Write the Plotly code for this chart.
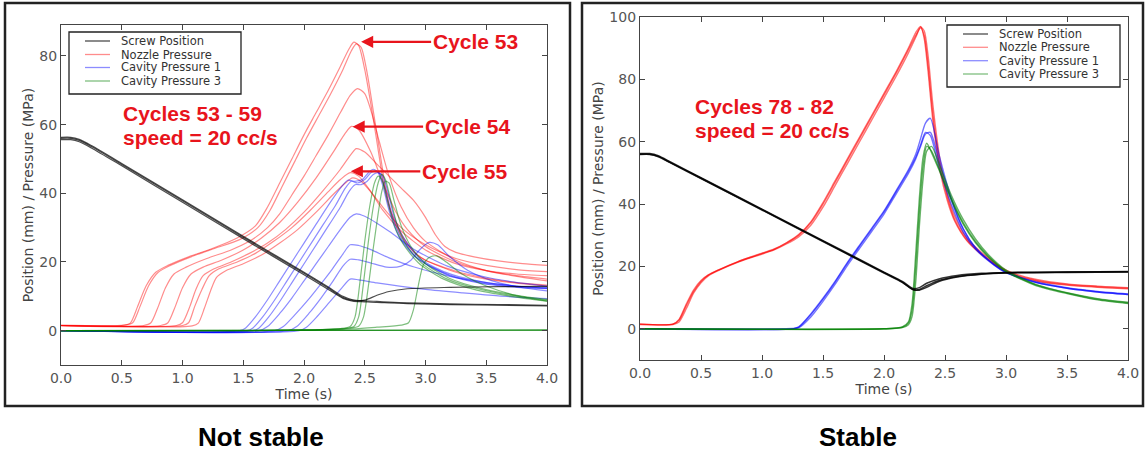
import plotly.graph_objects as go

W, H = 1146, 452

# ------------------------------------------------------------------
# LEFT PANEL  -  "Not stable", cycles 53-59
# ------------------------------------------------------------------
left_screw_t = [0, 0.08, 0.15, 0.25, 0.5, 1.0, 1.5, 2.0, 2.2, 2.32, 2.4, 2.5, 2.6, 2.7, 2.85, 3.2, 3.6, 4.0]
left_screw_v = [
    [55.6, 55.6, 55.0, 53.2, 48.0, 37.4, 26.8, 16.3, 12.0, 9.4, 8.6, 8.4, 8.2, 8.1, 7.9, 7.6, 7.4, 7.2],
    [56.3, 56.3, 55.7, 53.9, 48.7, 38.1, 27.5, 17.0, 12.7, 10.0, 9.0, 8.7, 8.5, 8.3, 8.1, 7.8, 7.6, 7.4],
    [56.0, 56.0, 55.4, 53.6, 48.4, 37.8, 27.2, 16.7, 12.4, 9.7, 8.8, 8.9, 10.3, 11.4, 12.2, 12.6, 12.8, 12.9],
]

left_nozzle_t = [
    [0, 0.5, 0.57, 0.63, 0.7, 0.78, 0.88, 1.05, 1.25, 1.45, 1.6, 1.7, 1.8, 1.9, 2.0, 2.1, 2.2, 2.3, 2.37, 2.41, 2.45, 2.5, 2.55, 2.6, 2.65, 2.7, 2.8, 2.9, 3.0, 3.25, 3.5, 3.75, 4.0],
    [0, 0.52, 0.59, 0.65, 0.72, 0.8, 0.9, 1.07, 1.27, 1.47, 1.62, 1.72, 1.82, 1.92, 2.02, 2.12, 2.22, 2.32, 2.39, 2.43, 2.47, 2.52, 2.57, 2.62, 2.67, 2.72, 2.82, 2.92, 3.0, 3.25, 3.5, 3.75, 4.0],
    [0, 0.68, 0.74, 0.8, 0.86, 0.93, 1.03, 1.2, 1.4, 1.55, 1.7, 1.8, 1.9, 2.0, 2.1, 2.2, 2.3, 2.38, 2.44, 2.5, 2.56, 2.62, 2.7, 2.8, 2.9, 3.0, 3.25, 3.5, 3.75, 4.0],
    [0, 0.82, 0.88, 0.94, 1.0, 1.07, 1.17, 1.32, 1.5, 1.65, 1.8, 1.95, 2.1, 2.25, 2.34, 2.39, 2.45, 2.55, 2.65, 2.75, 2.85, 3.0, 3.25, 3.5, 3.75, 4.0],
    [0, 0.95, 1.0, 1.06, 1.11, 1.17, 1.26, 1.4, 1.55, 1.7, 1.85, 2.0, 2.15, 2.3, 2.39, 2.43, 2.5, 2.6, 2.7, 2.8, 2.9, 3.0, 3.08, 3.16, 3.25, 3.4, 3.6, 3.8, 4.0],
    [0, 1.0, 1.05, 1.1, 1.16, 1.22, 1.3, 1.45, 1.6, 1.75, 1.9, 2.05, 2.2, 2.3, 2.38, 2.45, 2.55, 2.65, 2.8, 3.0, 3.25, 3.5, 3.75, 4.0],
    [0, 1.08, 1.13, 1.18, 1.23, 1.28, 1.36, 1.5, 1.65, 1.8, 1.95, 2.1, 2.25, 2.34, 2.4, 2.47, 2.57, 2.67, 2.8, 3.0, 3.25, 3.5, 3.75, 4.0],
]
left_nozzle_v = [
    [1.5, 1.5, 2.2, 7, 13, 17, 19, 21.5, 24, 27, 30.5, 36, 43, 50, 57, 63.5, 70, 77, 82, 84, 83, 76, 66, 55, 44, 36, 27.5, 23, 20.5, 17, 15, 13.8, 13],
    [1.6, 1.6, 2.3, 7, 13, 17, 19, 21.5, 24, 26.5, 30, 35, 42, 49, 56, 62.5, 69, 76, 81.5, 83.5, 82.5, 75, 64, 53, 42, 34.5, 27, 22.5, 20.5, 17.3, 15.3, 14, 13.3],
    [1.5, 1.5, 2.3, 7, 12.5, 16.5, 18.5, 21, 23.5, 26, 30, 34, 39.5, 45, 51, 57, 63.5, 68.5, 70.5, 69, 63, 55, 45, 36, 30, 26, 20.5, 17.5, 15.8, 14.5],
    [1.5, 1.5, 2.3, 7, 12.5, 16.5, 18.5, 20.5, 23.5, 27, 31.5, 37.5, 44.5, 52.5, 57.5, 59.5, 58.5, 52, 43, 35, 29.5, 24.5, 20, 17.5, 16, 15],
    [1.5, 1.5, 2.3, 7, 12, 16, 18, 20, 22.5, 25.5, 29.5, 34.5, 40.5, 47, 51.5, 53, 52, 48.5, 45, 41.5, 38, 33, 28, 24.5, 22.8, 21.5, 20.3, 19.5, 19],
    [1.5, 1.5, 2.3, 7, 12, 16, 18, 20, 22.5, 26, 30, 35, 40.5, 44, 46, 45, 40.5, 35, 29, 23.5, 19.5, 17.5, 16.5, 16],
    [1.4, 1.4, 2.2, 6.5, 11.5, 15.5, 17.5, 19.5, 22, 25.5, 29.5, 34.5, 40, 43, 44.5, 43.5, 39.5, 35, 30, 25, 21, 19, 17.8, 17.2],
]

left_cav1_t = [
    [0, 1.47, 1.52, 1.6, 1.7, 1.8, 1.9, 2.0, 2.1, 2.2, 2.3, 2.36, 2.42, 2.48, 2.53, 2.57, 2.61, 2.65, 2.7, 2.78, 2.9, 3.05, 3.2, 3.45, 3.75, 4.0],
    [0, 1.53, 1.58, 1.66, 1.76, 1.86, 1.96, 2.06, 2.16, 2.26, 2.34, 2.39, 2.44, 2.5, 2.55, 2.59, 2.63, 2.67, 2.72, 2.8, 2.92, 3.05, 3.2, 3.45, 3.75, 4.0],
    [0, 1.58, 1.63, 1.71, 1.81, 1.91, 2.01, 2.11, 2.21, 2.3, 2.37, 2.42, 2.47, 2.52, 2.57, 2.61, 2.65, 2.69, 2.74, 2.82, 2.94, 3.07, 3.22, 3.47, 3.75, 4.0],
    [0, 1.63, 1.7, 1.8, 1.9, 2.0, 2.1, 2.2, 2.3, 2.38, 2.43, 2.5, 2.6, 2.71, 2.9, 3.18, 3.45, 3.7, 4.0],
    [0, 1.76, 1.83, 1.93, 2.03, 2.13, 2.23, 2.32, 2.38, 2.45, 2.55, 2.7, 2.9, 3.2, 3.5, 3.75, 4.0],
    [0, 1.87, 1.94, 2.04, 2.14, 2.24, 2.32, 2.38, 2.45, 2.55, 2.68, 2.8, 2.88, 2.95, 3.03, 3.1, 3.2, 3.35, 3.55, 3.8, 4.0],
    [0, 1.96, 2.02, 2.11, 2.21, 2.31, 2.38, 2.45, 2.6, 2.8, 3.0, 3.3, 3.6, 4.0],
]
left_cav1_v = [
    [0, 0, 0.8, 4, 9, 14.5, 20, 25.5, 31, 36.5, 41.5, 43.8, 43.5, 44, 46, 47, 46, 42, 35, 27.5, 22, 18.5, 16, 13.8, 12.6, 12.2],
    [0, 0, 0.8, 4, 9, 14.5, 20, 25.5, 31, 36.5, 41.5, 43.5, 43, 44, 46, 46.5, 45.5, 41, 34, 27, 21.5, 18.5, 16.2, 14, 12.8, 12.4],
    [0, 0, 0.8, 4, 9, 14.5, 20, 25.5, 31, 36, 40.5, 42.5, 42.5, 43.5, 45.5, 46, 45, 40.5, 33.5, 27, 21.5, 18.5, 16.3, 14.2, 13, 12.6],
    [0, 0, 1.2, 5, 9.5, 14.5, 19.5, 24.5, 29.5, 33, 34, 33.3, 31.3, 28.7, 23.8, 18.8, 16, 14.3, 13],
    [0, 0, 1.2, 4.8, 8.8, 13.2, 17.8, 22.3, 25, 24.8, 23.6, 21.2, 18.6, 15.8, 14, 13, 12.3],
    [0, 0, 1.2, 5, 9.5, 14.5, 18.8, 20.8, 20.6, 19.7, 18.5, 18.8, 20.5, 23.5, 25.7, 25, 21.5, 17.5, 14.5, 12.5, 11.6],
    [0, 0, 1.0, 4.2, 8.3, 12.4, 15, 14.8, 13.9, 12.9, 12, 11, 10.1, 9.3],
]

left_cav3_t = [
    [0, 1.5, 2.0, 2.3, 2.38, 2.42, 2.46, 2.5, 2.54, 2.58, 2.61, 2.64, 2.68, 2.74, 2.82, 2.95, 3.15, 3.4, 3.7, 4.0],
    [0, 1.5, 2.0, 2.33, 2.41, 2.45, 2.49, 2.53, 2.57, 2.61, 2.64, 2.67, 2.71, 2.77, 2.85, 2.98, 3.18, 3.43, 3.72, 4.0],
    [0, 1.5, 2.0, 2.37, 2.45, 2.49, 2.53, 2.57, 2.61, 2.64, 2.67, 2.7, 2.74, 2.8, 2.88, 3.0, 3.2, 3.45, 3.75, 4.0],
    [0, 2.0, 2.4, 2.6, 2.8, 2.86, 2.9, 2.94, 2.98, 3.03, 3.09, 3.17, 3.3, 3.5, 3.75, 4.0],
    [0, 2.0, 4.0],
    [0, 2.0, 4.0],
    [0, 2.0, 4.0],
]
left_cav3_v = [
    [0, 0, 0.2, 0.6, 1.2, 4, 14, 26, 36, 43, 45, 44, 39, 31, 25, 19.5, 15, 12, 10, 8.6],
    [0, 0, 0.2, 0.6, 1.2, 4, 14, 26, 36, 43, 45.5, 44, 38.5, 30.5, 24.5, 19.3, 15, 12.2, 10.2, 8.9],
    [0, 0, 0.2, 0.7, 1.3, 4, 13, 24, 34, 40.5, 43.5, 43, 38, 30.5, 24.5, 19.5, 15.2, 12.4, 10.3, 9.1],
    [0, 0.1, 0.5, 1.0, 1.6, 2.3, 6, 13, 19, 21.3, 21.8, 20, 16.5, 13, 10.2, 8.6],
    [0, 0.1, 0.2],
    [0, 0.05, 0.1],
    [0, 0.1, 0.15],
]

# ------------------------------------------------------------------
# RIGHT PANEL  -  "Stable", cycles 78-82
# ------------------------------------------------------------------
right_screw_t = [0, 0.08, 0.15, 0.25, 0.5, 1.0, 1.5, 2.0, 2.15, 2.24, 2.29, 2.35, 2.45, 2.6, 2.8, 3.0, 3.5, 4.0]
right_screw_v = [
    [56.0, 56.0, 55.3, 53.3, 48.3, 38.2, 28.1, 18.0, 15.0, 12.6, 12.6, 13.8, 15.5, 16.8, 17.6, 18.0, 18.2, 18.3],
    [56.2, 56.2, 55.5, 53.5, 48.5, 38.4, 28.3, 18.2, 15.2, 12.9, 13.2, 14.6, 16.0, 17.1, 17.8, 18.1, 18.2, 18.4],
    [55.9, 55.9, 55.2, 53.2, 48.2, 38.1, 28.0, 17.9, 14.9, 12.5, 12.4, 13.3, 15.2, 16.6, 17.5, 17.9, 18.1, 18.2],
]

right_nozzle_t = [0, 0.27, 0.32, 0.38, 0.44, 0.5, 0.56, 0.65, 0.8, 0.95, 1.1, 1.2, 1.3, 1.4, 1.5, 1.6, 1.7, 1.8, 1.9, 2.0, 2.1, 2.2, 2.26, 2.3, 2.33, 2.36, 2.4, 2.46, 2.52, 2.58, 2.68, 2.8, 3.0, 3.25, 3.5, 3.75, 4.0]
right_nozzle_v = [
    [1.5, 1.5, 3, 8, 12.5, 15.5, 17.3, 19, 21.5, 23.5, 25.5, 27.5, 30, 34, 40, 47, 54, 61, 68, 75, 82, 89.5, 94, 96.5, 94, 85, 69, 52, 42, 35, 28.5, 24, 18.5, 15.5, 14.2, 13.5, 13],
    [1.4, 1.4, 2.2, 6.5, 11.5, 14.8, 17, 18.8, 21.3, 23.3, 25.3, 27.2, 29.5, 33.2, 39, 46, 53, 60, 67, 74, 81, 88.5, 93.5, 96.8, 95.5, 88, 72, 54, 43, 36, 29, 24.5, 18.8, 15.8, 14.4, 13.7, 13.2],
    [1.5, 1.5, 2.8, 7.5, 12, 15.2, 17.2, 19, 21.5, 23.6, 25.6, 27.6, 30.2, 34.3, 40.5, 47.5, 54.5, 61.5, 68.5, 75.5, 82.5, 90, 95, 97, 93, 83, 67, 50.5, 41, 34.5, 28.2, 23.8, 18.3, 15.3, 14, 13.3, 12.8],
]

right_cav1_t = [0, 1.25, 1.3, 1.4, 1.5, 1.6, 1.7, 1.8, 1.9, 2.0, 2.1, 2.2, 2.26, 2.3, 2.34, 2.38, 2.45, 2.55, 2.65, 2.75, 2.9, 3.0, 3.25, 3.5, 3.75, 4.0]
right_cav1_v = [
    [0, 0, 0.5, 4.5, 9.5, 15, 21, 26.5, 32, 37.5, 44, 50.5, 55, 59, 63, 62, 52, 40, 31, 25.5, 20.5, 18, 14.8, 13, 11.8, 11],
    [0, 0.1, 0.3, 3.8, 8.8, 14.3, 20.3, 25.8, 31.3, 36.8, 43.3, 49.8, 54.5, 58.5, 62.5, 63, 54, 41.5, 32, 26, 20.8, 18.2, 15, 13.2, 12, 11.2],
    [0, 0, 0.6, 4.8, 9.8, 15.3, 21.3, 26.8, 32.3, 37.8, 44.3, 51, 56, 61, 66, 67.5, 56, 42, 32, 26, 20.6, 18.1, 14.8, 13, 11.8, 11],
]

right_cav3_t = [0, 2.0, 2.15, 2.2, 2.23, 2.26, 2.29, 2.32, 2.35, 2.39, 2.45, 2.55, 2.65, 2.75, 2.85, 3.0, 3.25, 3.5, 3.75, 4.0]
right_cav3_v = [
    [0, 0, 0.5, 1.8, 6, 20, 38, 52, 58.5, 57, 51.5, 42, 34, 28, 23.5, 18.5, 14, 11.5, 9.5, 8.3],
    [0, 0, 0.4, 1.3, 4, 15, 33, 48, 57, 58.5, 53, 43, 35, 28.8, 24, 18.8, 14.2, 11.6, 9.7, 8.5],
    [0, 0, 0.6, 2.2, 8, 24, 42, 55, 59.5, 56.5, 51, 41.5, 33.5, 27.6, 23.2, 18.3, 13.8, 11.3, 9.3, 8.1],
]

# axis ticks / labels
x_ticks = [0.0, 0.5, 1.0, 1.5, 2.0, 2.5, 3.0, 3.5, 4.0]
left_y_ticks = [0, 20, 40, 60, 80]
right_y_ticks = [0, 20, 40, 60, 80, 100]
legend_labels = ["Screw Position", "Nozzle Pressure", "Cavity Pressure 1", "Cavity Pressure 3"]

# ------------------------------------------------------------------
COL_L = {
    "screw": "rgba(0,0,0,0.7)",
    "nozzle": "rgba(255,0,0,0.45)",
    "cav1": "rgba(0,0,255,0.45)",
    "cav3": "rgba(0,128,0,0.5)",
}
COL_R = {
    "screw": "rgba(0,0,0,0.8)",
    "nozzle": "rgba(255,0,0,0.55)",
    "cav1": "rgba(0,0,255,0.55)",
    "cav3": "rgba(0,128,0,0.6)",
}
LEG_COL = [COL_L["screw"], COL_L["nozzle"], COL_L["cav1"], COL_L["cav3"]]
RED = "#e8141c"

fig = go.Figure()


def add_curves(ts, vs, color, xa, ya, width):
    for i, v in enumerate(vs):
        t = ts[i] if isinstance(ts[0], list) else ts
        fig.add_trace(go.Scatter(
            x=t, y=v, mode="lines", xaxis=xa, yaxis=ya, showlegend=False,
            hoverinfo="skip",
            line=dict(color=color, width=width, shape="spline", smoothing=0.7)))


add_curves(left_nozzle_t, left_nozzle_v, COL_L["nozzle"], "x", "y", 1.2)
add_curves(left_cav1_t, left_cav1_v, COL_L["cav1"], "x", "y", 1.2)
add_curves(left_cav3_t, left_cav3_v, COL_L["cav3"], "x", "y", 1.2)
add_curves(left_screw_t, left_screw_v, COL_L["screw"], "x", "y", 1.2)

add_curves(right_nozzle_t, right_nozzle_v, COL_R["nozzle"], "x2", "y2", 1.4)
add_curves(right_cav1_t, right_cav1_v, COL_R["cav1"], "x2", "y2", 1.4)
add_curves(right_cav3_t, right_cav3_v, COL_R["cav3"], "x2", "y2", 1.4)
add_curves(right_screw_t, right_screw_v, COL_R["screw"], "x2", "y2", 1.5)


def px(x):
    return x / W


def py(y):
    return 1 - y / H


AX_COL = "#444"
TICK_FONT = dict(family="DejaVu Sans", size=14, color="#555")
TITLE_FONT = dict(family="DejaVu Sans", size=14, color="#444")
common_x = dict(range=[0, 4], tickvals=x_ticks, ticktext=[f"{v:.1f}" for v in x_ticks],
                ticks="inside", ticklen=5, tickcolor=AX_COL, showline=True, linecolor=AX_COL,
                linewidth=1.3, mirror="ticks", showgrid=False, zeroline=False, automargin=False,
                tickfont=TICK_FONT, title=dict(text="Time (s)", font=TITLE_FONT, standoff=2))
common_y = dict(ticks="inside", ticklen=5, tickcolor=AX_COL, showline=True, linecolor=AX_COL,
                linewidth=1.3, mirror="ticks", showgrid=False, zeroline=False, automargin=False,
                tickfont=TICK_FONT,
                title=dict(text="Position (mm) / Pressure (MPa)", font=TITLE_FONT, standoff=2))

fig.update_layout(
    width=W, height=H, margin=dict(l=0, r=0, t=0, b=0, pad=0, autoexpand=False),
    paper_bgcolor="white", plot_bgcolor="white", showlegend=False,
    xaxis=dict(domain=[px(61), px(547)], anchor="y", **common_x),
    yaxis=dict(domain=[py(365), py(25)], anchor="x", range=[-10, 89], tickvals=left_y_ticks, **common_y),
    xaxis2=dict(domain=[px(640), px(1128)], anchor="y2", **common_x),
    yaxis2=dict(domain=[py(360), py(17)], anchor="x2", range=[-10, 100], tickvals=right_y_ticks, **common_y),
)

shapes = []
annos = []
# panel frames
for x0, x1 in [(5, 570), (582, 1143)]:
    shapes.append(dict(type="rect", xref="paper", yref="paper", x0=px(x0), x1=px(x1),
                       y0=py(406), y1=py(3), line=dict(color="#222", width=2.5)))

# legends (drawn as boxes with sample lines)
for (bx0, by0, bx1, by1, lx0, lx1, tx, rows) in [
    (69, 32, 241, 94, 85, 110, 119, [41, 54.5, 67.5, 81]),
    (947, 25, 1120, 87, 963, 988, 997, [34, 47.3, 60.7, 74]),
]:
    shapes.append(dict(type="rect", xref="paper", yref="paper", x0=px(bx0), x1=px(bx1),
                       y0=py(by1), y1=py(by0), line=dict(color="#222", width=1.3),
                       fillcolor="white", layer="above"))
    for lab, col, ry in zip(legend_labels, LEG_COL, rows):
        shapes.append(dict(type="line", xref="paper", yref="paper", x0=px(lx0), x1=px(lx1),
                           y0=py(ry), y1=py(ry), line=dict(color=col, width=1.3), layer="above"))
        annos.append(dict(xref="paper", yref="paper", x=px(tx), y=py(ry), text=lab,
                          showarrow=False, xanchor="left", yanchor="middle",
                          font=dict(family="DejaVu Sans", size=11.5, color="#333")))

RF = dict(family="Liberation Sans, Arial", size=21, color=RED, weight="bold")
# red labels
for txt, x, y in [("Cycles 53 - 59", 121, 113), ("speed = 20 cc/s", 121, 137),
                  ("Cycles 78 - 82", 693, 107), ("speed = 20 cc/s", 693, 131)]:
    annos.append(dict(xref="paper", yref="paper", x=px(x), y=py(y), text=txt, showarrow=False,
                      xanchor="left", yanchor="middle", font=RF))

# cycle arrows (head in data coordinates)
for txt, hx, hy, off in [("Cycle 53", 2.47, 84.1, 114), ("Cycle 54", 2.40, 59.4, 115),
                         ("Cycle 55", 2.385, 46.4, 114)]:
    annos.append(dict(xref="x", yref="y", x=hx, y=hy, text=txt, showarrow=True,
                      ax=off, ay=0, arrowhead=2, arrowsize=1.1, arrowwidth=2.2,
                      arrowcolor=RED, standoff=0, font=RF))

# panel captions
for txt, x in [("Not stable", 261), ("Stable", 858)]:
    annos.append(dict(xref="paper", yref="paper", x=px(x), y=py(437), text=txt, showarrow=False,
                      xanchor="center", yanchor="middle",
                      font=dict(family="Liberation Sans, Arial", size=26, color="black", weight="bold")))

fig.update_layout(shapes=shapes, annotations=annos)
fig.write_html("out.html", config={"displayModeBar": False},
               post_script="document.body.style.margin='0';document.body.style.overflow='hidden';")
